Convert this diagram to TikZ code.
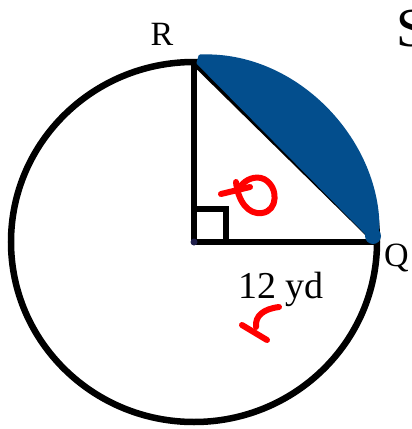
\documentclass[tikz,border=0pt]{standalone}
\usepackage{fontspec}
\setmainfont{Liberation Serif}
\usepackage{xcolor}
\usetikzlibrary{calc}
\definecolor{segblue}{HTML}{034E8D}
\definecolor{inkred}{HTML}{FF0000}
\definecolor{dotnavy}{HTML}{1F1F4A}
\tikzset{
  thickline/.style={line width=6.5pt,black},
  redmark/.style={line width=6pt,inkred,line cap=round,line join=round},
  lbl/.style={inner sep=0pt,font=\fontsize{34}{34}\selectfont}
}

\begin{document}
\begin{tikzpicture}[x=1pt,y=-1pt]
\useasboundingbox (0,0) rectangle (412,429);
\coordinate (O) at (194,242);
\coordinate (R) at (194,62);
\coordinate (Q) at (377,242);
% circle and triangle
\draw[thickline] (O) ellipse[x radius=183,y radius=180];
\draw[thickline] (O) -- (R);
\draw[thickline] (O) -- (Q);
\draw[thickline] (R) -- (Q);
\draw[line width=6pt] (O) ++(0,-33) -| ($(O)+(32,0)$);
% shaded segment
\filldraw[segblue,line width=3pt,line join=round] (200,56) .. controls (296,52) and (378,140) .. (378,228) -- (373,240) -- (198,63) -- cycle;
\fill[segblue] (373,236) circle (8);
\fill[dotnavy] (O) circle (3.5);
% labels
\node[lbl,anchor=base] (lblR) at (162,45) {R};
\node[lbl,anchor=base west] (lblQ) at (384,266) {Q};
\node[lbl,anchor=base,font=\fontsize{38}{38}\selectfont] (lblside) at (281,298) {12 yd};
\node[lbl,anchor=base west,font=\fontsize{55}{55}\selectfont] (lblS) at (396,46) {S};
% red marks
\draw[redmark] (221,194) -- (250,187);
\draw[redmark] (236,182) .. controls (238,201) and (248,215) .. (262,213) .. controls (278,211) and (279,187) .. (264,179) .. controls (255,175) and (245,180) .. (241,186);
\draw[redmark] (279,307) .. controls (263,309) and (255,316) .. (256,327);
\draw[redmark] (242,325) -- (267,340);
\end{tikzpicture}
\end{document}
